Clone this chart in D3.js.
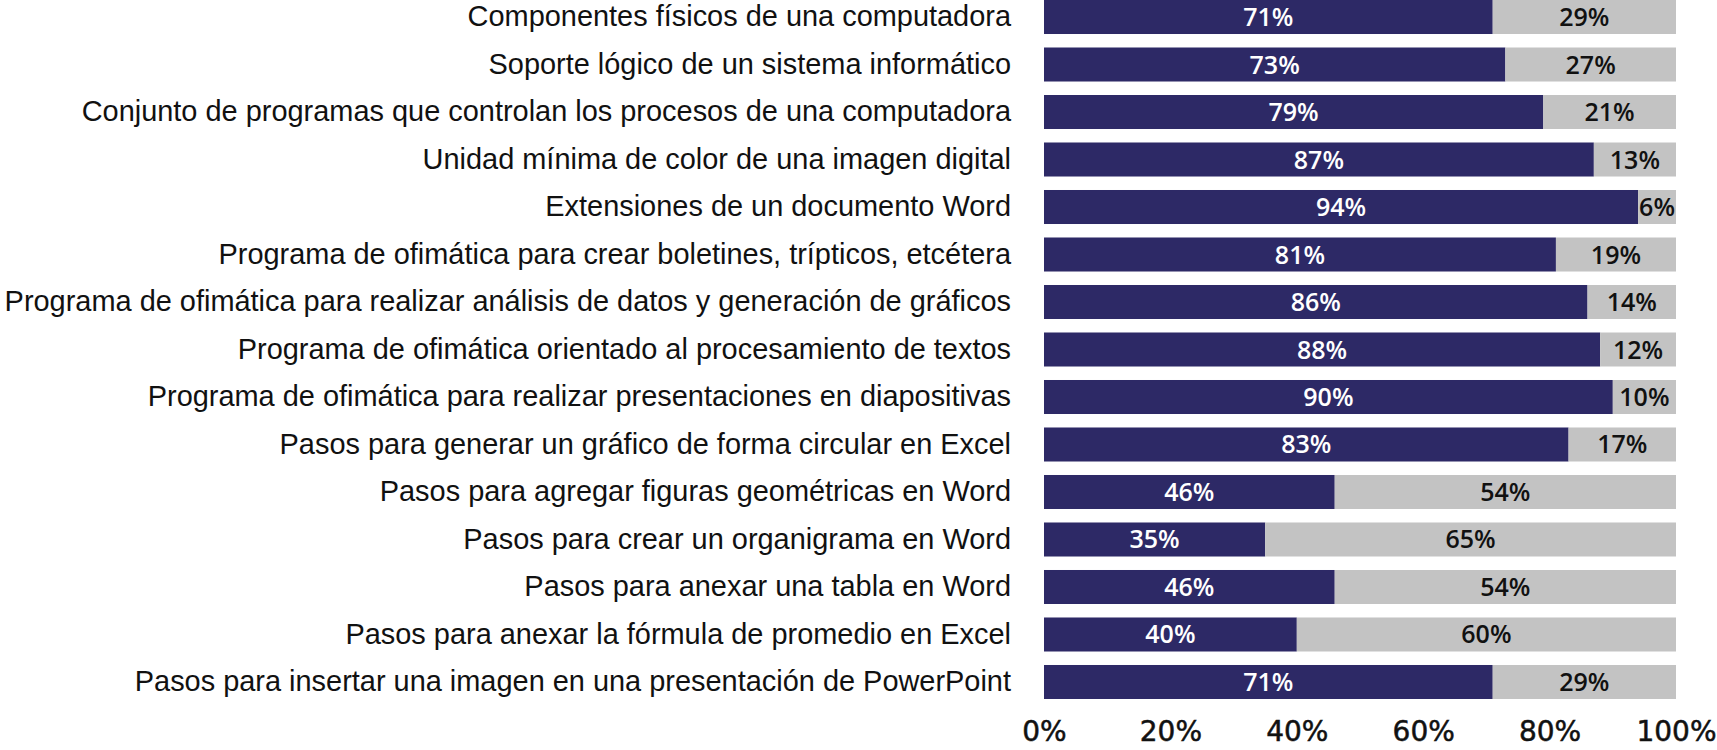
<!DOCTYPE html>
<html>
<head>
<meta charset="utf-8">
<script src="https://cdn.jsdelivr.net/npm/d3@7"></script>
<style>
  body { margin: 0; background: #fff; }
  #chart { width: 1717px; height: 750px; }
</style>
</head>
<body>
<div id="chart"></div>
<script>
// Data
const categories = [
    "Componentes físicos de una computadora",
    "Soporte lógico de un sistema informático",
    "Conjunto de programas que controlan los procesos de una computadora",
    "Unidad mínima de color de una imagen digital",
    "Extensiones de un documento Word",
    "Programa de ofimática para crear boletines, trípticos, etcétera",
    "Programa de ofimática para realizar análisis de datos y generación de gráficos",
    "Programa de ofimática orientado al procesamiento de textos",
    "Programa de ofimática para realizar presentaciones en diapositivas",
    "Pasos para generar un gráfico de forma circular en Excel",
    "Pasos para agregar figuras geométricas en Word",
    "Pasos para crear un organigrama en Word",
    "Pasos para anexar una tabla en Word",
    "Pasos para anexar la fórmula de promedio en Excel",
    "Pasos para insertar una imagen en una presentación de PowerPoint"
];
const correct = [71, 73, 79, 87, 94, 81, 86, 88, 90, 83, 46, 35, 46, 40, 71];
const incorrect = [29, 27, 21, 13, 6, 19, 14, 12, 10, 17, 54, 65, 54, 60, 29];
const xTicks = [0, 20, 40, 60, 80, 100];

const darkColor = "#2d2966";
const greyColor = "#c3c3c3";

function createStackedBars() {
    const width = 1717, height = 750;
    const margin = { top: 0, left: 1044, right: 41 };
    const innerW = width - margin.left - margin.right;
    const innerH = 699;

    const rows = categories.map((c, i) => ({ cat: c, a: correct[i], b: incorrect[i] }));

    const svg = d3.select("#chart").append("svg")
        .attr("width", width)
        .attr("height", height);

    const g = svg.append("g")
        .attr("transform", `translate(${margin.left},${margin.top})`);

    const x = d3.scaleLinear().domain([0, 100]).range([0, innerW]);
    const y = d3.scaleBand().domain(categories).range([0, innerH])
        .paddingInner(0.284).paddingOuter(0);

    // dark segment
    g.selectAll("rect.a")
        .data(rows)
        .enter().append("rect")
        .attr("class", "a")
        .attr("x", x(0))
        .attr("y", d => y(d.cat))
        .attr("width", d => x(d.a) - x(0))
        .attr("height", y.bandwidth())
        .attr("fill", darkColor);

    // grey segment
    g.selectAll("rect.b")
        .data(rows)
        .enter().append("rect")
        .attr("class", "b")
        .attr("x", d => x(d.a))
        .attr("y", d => y(d.cat))
        .attr("width", d => x(d.a + d.b) - x(d.a))
        .attr("height", y.bandwidth())
        .attr("fill", greyColor);

    const labelFont = "'Liberation Sans', Arial, sans-serif";
    const valueFont = "'Open Sans', sans-serif";

    g.selectAll("text.la")
        .data(rows)
        .enter().append("text")
        .attr("class", "la")
        .attr("x", d => x(d.a / 2))
        .attr("y", d => y(d.cat) + y.bandwidth() / 2)
        .attr("dy", "0.36em")
        .attr("text-anchor", "middle")
        .attr("fill", "#fff")
        .style("font-family", valueFont)
        .style("font-size", "25px")
        .style("font-weight", 600)
        .text(d => d.a + "%");

    g.selectAll("text.lb")
        .data(rows)
        .enter().append("text")
        .attr("class", "lb")
        .attr("x", d => x(d.a + d.b / 2))
        .attr("y", d => y(d.cat) + y.bandwidth() / 2)
        .attr("dy", "0.36em")
        .attr("text-anchor", "middle")
        .attr("fill", "#111")
        .style("font-family", valueFont)
        .style("font-size", "25px")
        .style("font-weight", 600)
        .text(d => d.b + "%");

    // category labels on the left
    const yAxis = g.append("g")
        .attr("transform", "translate(-33,0)")
        .call(d3.axisLeft(y).tickSize(0).tickPadding(0));
    yAxis.select(".domain").remove();
    yAxis.selectAll("text")
        .attr("fill", "#111")
        .style("font-family", labelFont)
        .style("font-size", "26px");

    // fit the longest label to the width seen in the reference
    let maxW = 0;
    yAxis.selectAll("text").each(function() {
        maxW = Math.max(maxW, this.getComputedTextLength());
    });
    if (maxW > 0) {
        yAxis.selectAll("text").style("font-size", (26 * 1007 / maxW) + "px");
    }

    // bottom axis, labels only
    const xAxis = g.append("g")
        .attr("transform", `translate(0,${innerH + 21})`)
        .call(d3.axisBottom(x).tickValues(xTicks).tickSize(0).tickPadding(0)
            .tickFormat(d => d + "%"));
    xAxis.select(".domain").remove();
    xAxis.selectAll("text")
        .attr("fill", "#111")
        .attr("stroke", "#111")
        .attr("stroke-width", 0.5)
        .attr("dy", "0.76em")
        .style("font-family", "'DejaVu Sans', sans-serif")
        .style("font-size", "28px");
}

createStackedBars();
</script>
</body>
</html>
